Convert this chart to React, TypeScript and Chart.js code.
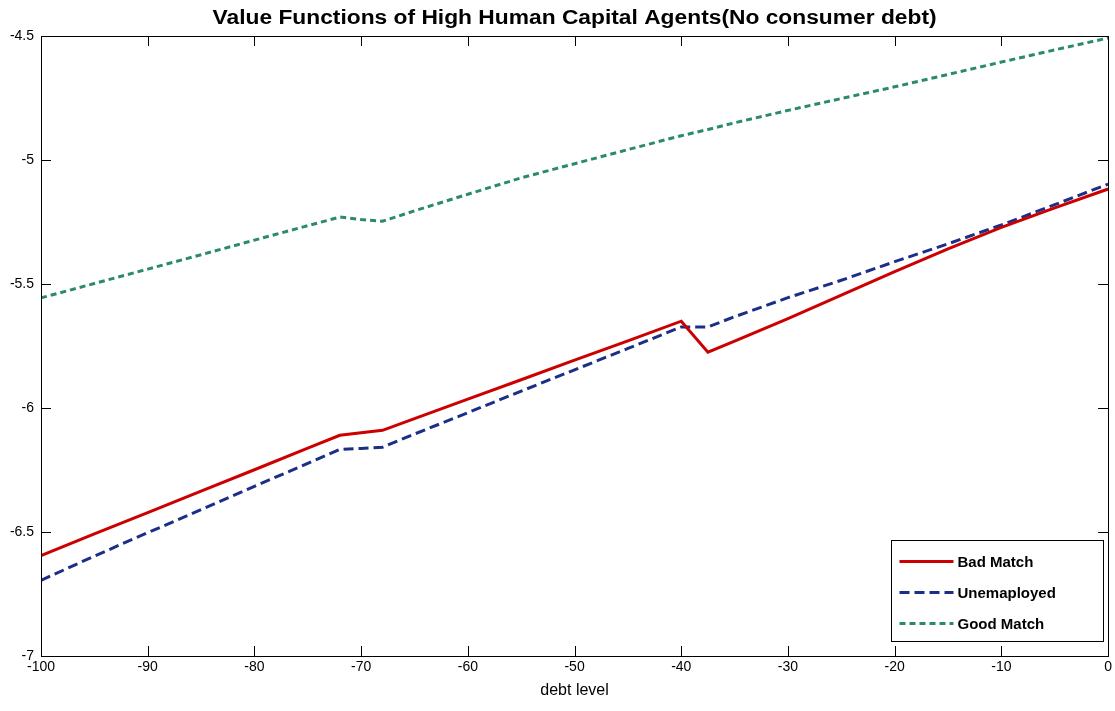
import React, { useEffect, useRef } from "react";
import { Chart, registerables } from "chart.js";

Chart.register(...registerables);

const chartTitle = "Value Functions of High Human Capital Agents(No consumer debt)";
const xAxisTitle = "debt level";

const debtLevels = [
  -100, -95, -90, -85, -80, -75, -72, -70, -68, -65, -60, -55, -50, -45, -40, -37.5, -35, -30, -25, -20, -15, -10, -5, 0,
];

const badMatch = [
  -6.595, -6.508, -6.422, -6.335, -6.249, -6.162, -6.11, -6.1, -6.09, -6.043, -5.964, -5.886, -5.807, -5.729, -5.65,
  -5.775, -5.73, -5.64, -5.545, -5.45, -5.358, -5.272, -5.193, -5.117,
];

const unemployed = [
  -6.695, -6.597, -6.503, -6.41, -6.316, -6.223, -6.167, -6.163, -6.158, -6.105, -6.019, -5.932, -5.846, -5.76, -5.673,
  -5.673, -5.632, -5.555, -5.485, -5.41, -5.338, -5.262, -5.18, -5.097,
];

const goodMatch = [
  -5.556, -5.498, -5.44, -5.382, -5.323, -5.265, -5.23, -5.24, -5.247, -5.205, -5.138, -5.072, -5.015, -4.958, -4.902,
  -4.877, -4.85, -4.8, -4.752, -4.705, -4.655, -4.605, -4.556, -4.508,
];

const seriesNames = ["Bad Match", "Unemaployed", "Good Match"];
const seriesColors = ["#cc0000", "#1b2f87", "#2a8a6a"];
const seriesDashes: number[][] = [[], [10, 5], [6, 4]];

const xTicks = [-100, -90, -80, -70, -60, -50, -40, -30, -20, -10, 0];
const yTicks = [-7, -6.5, -6, -5.5, -5, -4.5];

const FONT = "'Liberation Sans', Arial, Helvetica, sans-serif";

const matlabPlugin = {
  id: "matlabFrame",
  afterDatasetsDraw(chart: any) {
    const { ctx, chartArea } = chart;
    const { left, top, right, bottom } = chartArea;
    const xs = chart.scales.x;
    const ys = chart.scales.y;
    ctx.save();
    // title
    ctx.fillStyle = "#000";
    ctx.font = `bold 20px ${FONT}`;
    ctx.textAlign = "center";
    ctx.textBaseline = "middle";
    const cx = (left + right) / 2;
    const tw = ctx.measureText(chartTitle).width;
    const target = 724;
    ctx.save();
    ctx.translate(cx, 18);
    ctx.scale(target / tw, 1);
    ctx.fillText(chartTitle, 0, 0);
    ctx.restore();

    // frame
    ctx.strokeStyle = "#000";
    ctx.lineWidth = 1;
    ctx.strokeRect(Math.round(left) + 0.5, Math.round(top) + 0.5, Math.round(right - left), Math.round(bottom - top));
    const tl = 10;
    ctx.beginPath();
    for (const v of xTicks) {
      const px = Math.round(xs.getPixelForValue(v)) + 0.5;
      ctx.moveTo(px, bottom);
      ctx.lineTo(px, bottom - tl);
      ctx.moveTo(px, top);
      ctx.lineTo(px, top + tl);
    }
    for (const v of yTicks) {
      const py = Math.round(ys.getPixelForValue(v)) + 0.5;
      ctx.moveTo(left, py);
      ctx.lineTo(left + tl, py);
      ctx.moveTo(right, py);
      ctx.lineTo(right - tl, py);
    }
    ctx.stroke();

    // legend
    const bw = 212;
    const bh = 101;
    const bx = Math.round(right - 5 - bw) + 0.5;
    const by = Math.round(bottom - 15 - bh) + 0.5;
    ctx.fillStyle = "#fff";
    ctx.fillRect(bx, by, bw, bh);
    ctx.strokeStyle = "#000";
    ctx.lineWidth = 1;
    ctx.strokeRect(bx, by, bw, bh);
    ctx.font = `bold 15px ${FONT}`;
    ctx.textAlign = "left";
    ctx.textBaseline = "middle";
    for (let i = 0; i < seriesNames.length; i++) {
      const ry = by + 21 + i * 31;
      ctx.strokeStyle = seriesColors[i];
      ctx.lineWidth = 3;
      ctx.setLineDash(seriesDashes[i]);
      ctx.beginPath();
      ctx.moveTo(bx + 8, ry);
      ctx.lineTo(bx + 62, ry);
      ctx.stroke();
      ctx.setLineDash([]);
      ctx.fillStyle = "#000";
      ctx.fillText(seriesNames[i], bx + 66, ry + 1);
    }
    ctx.restore();
  },
};

export default function App() {
  const canvasRef = useRef<HTMLCanvasElement | null>(null);

  useEffect(() => {
    const canvas = canvasRef.current;
    if (!canvas) return;
    const seriesValues = [badMatch, unemployed, goodMatch];
    const chart = new Chart(canvas, {
      type: "line",
      data: {
        datasets: seriesValues.map((vals, i) => ({
          label: seriesNames[i],
          data: debtLevels.map((d, j) => ({ x: d, y: vals[j] })),
          borderColor: seriesColors[i],
          backgroundColor: seriesColors[i],
          borderWidth: 3,
          borderDash: seriesDashes[i],
          pointRadius: 0,
          tension: 0,
          fill: false,
        })),
      },
      options: {
        responsive: false,
        animation: false,
        layout: { padding: { top: 36, right: 5, left: 0, bottom: 0 } },
        plugins: {
          legend: { display: false },
          title: { display: false },
          tooltip: { enabled: false },
        },
        scales: {
          x: {
            type: "linear",
            min: -100,
            max: 0,
            afterFit: (s: any) => {
              s.height = 55;
            },
            afterBuildTicks: (s: any) => {
              s.ticks = xTicks.map((v) => ({ value: v }));
            },
            grid: { display: false, drawTicks: false },
            border: { display: false },
            ticks: {
              color: "#000",
              font: { family: FONT, size: 14 },
              padding: 3,
              maxRotation: 0,
              autoSkip: false,
              callback: (v: any) => String(v),
            },
            title: {
              display: true,
              text: xAxisTitle,
              color: "#000",
              font: { family: FONT, size: 16 },
              padding: { top: 0, bottom: 11 },
            },
          },
          y: {
            type: "linear",
            min: -7,
            max: -4.5,
            afterFit: (s: any) => {
              s.width = 41;
            },
            afterBuildTicks: (s: any) => {
              s.ticks = yTicks.map((v) => ({ value: v }));
            },
            grid: { display: false, drawTicks: false },
            border: { display: false },
            ticks: {
              color: "#000",
              font: { family: FONT, size: 14 },
              padding: 7,
              autoSkip: false,
              callback: (v: any) => String(v),
            },
          },
        },
      },
      plugins: [matlabPlugin],
    });
    return () => chart.destroy();
  }, []);

  return (
    <div style={{ position: "fixed", left: 0, top: 0, width: 1115, height: 711, background: "#fff" }}>
      <canvas ref={canvasRef} width={1115} height={711} style={{ display: "block", width: 1115, height: 711 }} />
    </div>
  );
}
